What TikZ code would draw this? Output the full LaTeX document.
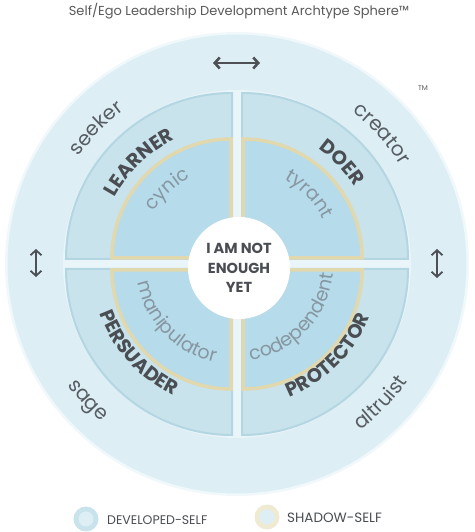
\documentclass[tikz,border=0pt]{standalone}
\usepackage{fontspec}
\setmainfont{Poppins}
\usetikzlibrary{decorations.text, arrows.meta}
\definecolor{outerc}{HTML}{DDEFF5}
\definecolor{gapc}{HTML}{E9F5F9}
\definecolor{bandc}{HTML}{C8E3EC}
\definecolor{bandedge}{HTML}{B4D6E2}
\definecolor{innerc}{HTML}{B6DBEA}
\definecolor{beige}{HTML}{E2D8AE}
\definecolor{darktext}{HTML}{4A4E53}
\definecolor{outertext}{HTML}{575D62}
\definecolor{innertext}{HTML}{8797A2}
\definecolor{titletext}{HTML}{5A5A5A}
\definecolor{arrowc}{HTML}{4D5054}
\newcommand\owfont{\fontsize{20}{20}\selectfont}
\newcommand\bwfont{\bfseries\fontsize{19.5}{20}\selectfont}
\newcommand\iwfont{\fontsize{19}{19}\selectfont}
\tikzset{
  outerword/.style={decorate, decoration={text along path, text align=center, text color=outertext, text={|\owfont|#1}}},
  boldword/.style={decorate, decoration={text along path, text align=center, text color=darktext, text={|\bwfont|#1}}},
  innerword/.style={decorate, decoration={text along path, text align=center, text color=innertext, text={|\iwfont|#1}}},
  dblarrow/.style={draw=arrowc, line width=2.6pt, {Straight Barb[length=5pt,width=11pt]}-{Straight Barb[length=5pt,width=11pt]}},
  bandsector/.style={fill=bandc, draw=bandedge, line width=2pt},
  innersector/.style={fill=innerc, draw=beige, line width=3.5pt},
  legendtext/.style={anchor=west, text=darktext, inner sep=0pt}
}
\begin{document}
\begin{tikzpicture}[x=1pt,y=1pt]
\useasboundingbox (-237,-268) rectangle (237,264);
\fill[white] (-237,-268) rectangle (237,264);
% title
\node[text=titletext, font=\fontsize{13}{13}\selectfont] (title) at (2,253) {Self/Ego Leadership Development Archtype Sphere™};
% outer circle
\fill[outerc] (0,0) circle (232);
\draw[white, opacity=0.6, line width=3pt] (0,0) circle (231);
\fill[gapc] (0,0) circle (174);
% quadrants
\foreach \sx/\sy/\a in {-1/1/180, 1/1/90, 1/-1/0, -1/-1/-90}{
  \path[bandsector] (\sx*5,\sy*5) -- ++(\a:166) arc (\a:\a-90:166) -- cycle;
  \path[innersector] (\sx*6,\sy*6) -- ++(\a:119) arc (\a:\a-90:119) -- cycle;
}
% centre
\fill[white] (2,-4) circle (51);
\node[align=center, text=darktext, font=\bfseries\fontsize{14.5}{19.5}\selectfont] (core) at (2,-4) {I AM NOT\\ENOUGH\\YET};
% outer words
\path[outerword=seeker] (176:191) arc (176:96:191);
\path[outerword=creator] (82:191) arc (82:2:191);
\path[outerword=sage] (182.5:208) arc (182.5:262.5:208);
\path[outerword=altruist] (276:207) arc (276:356:207);
% bold words
\path[boldword=LEARNER] (174:139) arc (174:94:139);
\path[boldword=DOER] (84:141) arc (84:4:141);
\path[boldword=PERSUADER] (177:146) arc (177:267:146);
\path[boldword=PROTECTOR] (270:143) arc (270:360:143);
% inner words
\path[innerword=cynic] (173:98) arc (173:93:98);
\path[innerword=tyrant] (84:97) arc (84:4:97);
\path[innerword=manipulator] (174:101) arc (174:274:101);
\path[innerword=codependent] (266:97) arc (266:366:97);
% arrows
\coordinate (hl) at (-24,201);
\coordinate (hr) at (23,201);
\draw[dblarrow] (hl) -- (hr);
\coordinate (lt) at (-201,15);
\coordinate (lb) at (-201,-13);
\draw[dblarrow, line width=1.8pt] (lt) -- (lb);
\coordinate (rt) at (200,15);
\coordinate (rb) at (200,-14);
\draw[dblarrow, line width=1.8pt] (rt) -- (rb);
% TM
\node[text=titletext, font=\fontsize{7}{7}\selectfont] (tm) at (186,176) {TM};
% legend
\node[circle, fill=bandc, minimum size=25pt, inner sep=0pt] (dev) at (-151,-255) {};
\node[circle, fill=outerc, minimum size=15pt, inner sep=0pt] (devin) at (dev) {};
\node[legendtext, font=\fontsize{12.5}{13}\selectfont] (devt) at (-130,-256) {DEVELOPED-SELF};
\node[circle, fill=beige!55!white, minimum size=25pt, inner sep=0pt] (sha) at (30,-253) {};
\node[circle, fill=outerc, minimum size=15pt, inner sep=0pt] (shain) at (sha) {};
\node[legendtext, font=\fontsize{13.5}{14}\selectfont] (shat) at (50,-254) {SHADOW-SELF};
\end{tikzpicture}
\end{document}
